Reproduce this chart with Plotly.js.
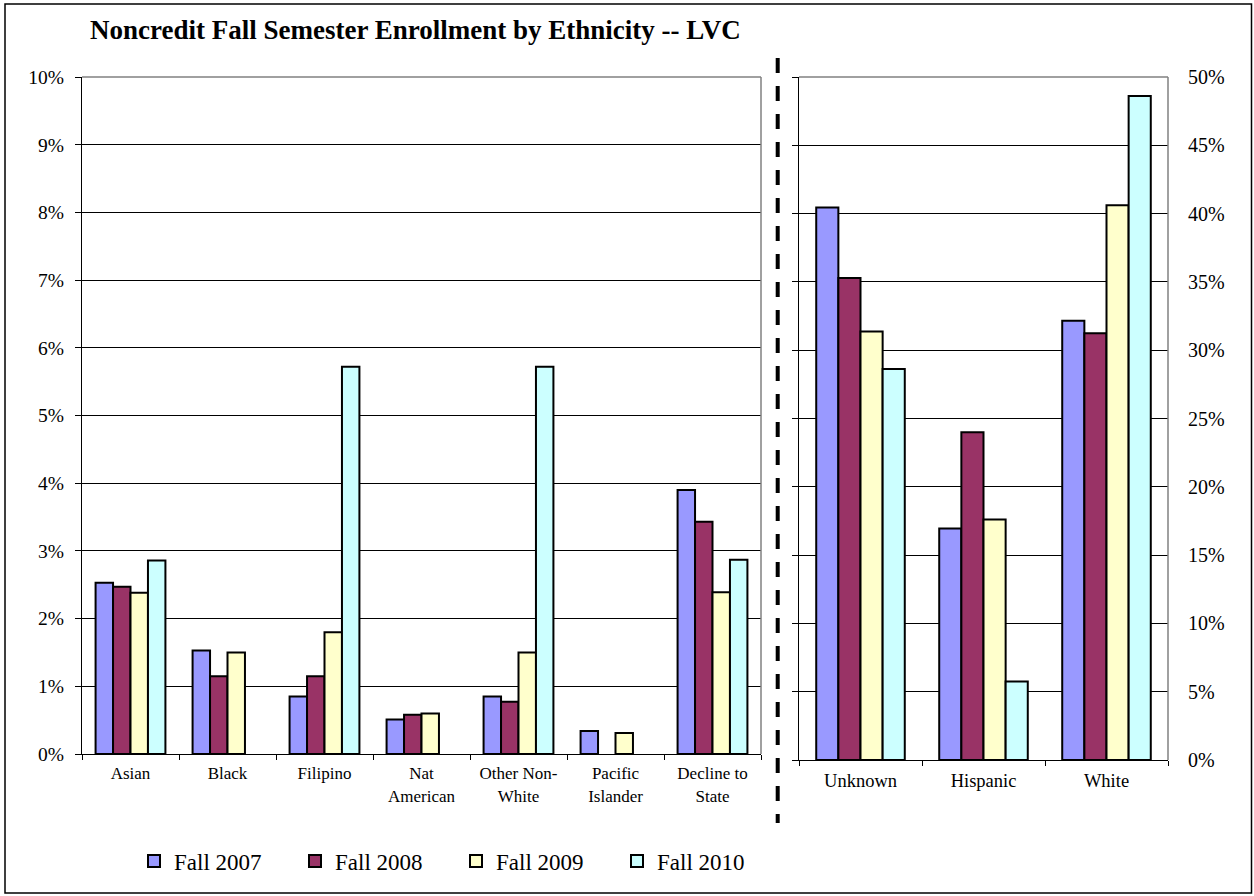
<!DOCTYPE html>
<html>
<head>
<meta charset="utf-8">
<script src="https://cdn.plot.ly/plotly-3.0.1.min.js"></script>
<style>html,body{margin:0;padding:0;background:#fff;}</style>
</head>
<body>
<div id="chart" style="width:1254px;height:896px;"></div>
<script>
// ---- data ----
const leftCategories = ["Asian", "Black", "Filipino", "Nat<br>American", "Other Non-<br>White", "Pacific<br>Islander", "Decline to<br>State"];
const rightCategories = ["Unknown", "Hispanic", "White"];
const seriesNames = ["Fall 2007", "Fall 2008", "Fall 2009", "Fall 2010"];

const left2007 = [0.0253, 0.0153, 0.0085, 0.0051, 0.0085, 0.0034, 0.0390];
const left2008 = [0.0247, 0.0115, 0.0115, 0.0058, 0.0077, null, 0.0343];
const left2009 = [0.0238, 0.0150, 0.0180, 0.0060, 0.0150, 0.0031, 0.0239];
const left2010 = [0.0286, null, 0.0572, null, 0.0572, null, 0.0287];

const right2007 = [0.4044, 0.1694, 0.3216];
const right2008 = [0.3529, 0.2400, 0.3125];
const right2009 = [0.3137, 0.1761, 0.4062];
const right2010 = [0.2863, 0.0574, 0.4860];

const colors = ["#9999FF", "#993366", "#FFFFCC", "#CCFFFF"];

// ---- build ----
const W = 1254, H = 896;
const px = v => v / W;
const py = v => (H - v) / H;
const serif = "Liberation Serif";

const leftVals = [left2007, left2008, left2009, left2010];
const rightVals = [right2007, right2008, right2009, right2010];

const traces = [];
seriesNames.forEach((n, i) => {
  traces.push({
    type: "bar", name: n, x: leftCategories, y: leftVals[i],
    xaxis: "x", yaxis: "y",
    marker: {color: colors[i], line: {color: "#000", width: 2}},
    hoverinfo: "skip", legendgroup: n
  });
});
seriesNames.forEach((n, i) => {
  traces.push({
    type: "bar", name: n, x: rightCategories, y: rightVals[i],
    xaxis: "x2", yaxis: "y2", showlegend: false,
    marker: {color: colors[i], line: {color: "#000", width: 2}},
    hoverinfo: "skip", legendgroup: n
  });
});
// invisible trace for the right-side label axis
traces.push({type: "bar", x: rightCategories, y: [null, null, null], xaxis: "x2", yaxis: "y3", showlegend: false, hoverinfo: "skip"});

const gray = "#808080";
const layout = {
  width: W, height: H,
  margin: {l: 0, r: 0, t: 0, b: 0},
  paper_bgcolor: "#fff", plot_bgcolor: "#fff",
  barmode: "group", bargap: 0.28, bargroupgap: 0,
  font: {family: serif, color: "#000"},
  showlegend: true,
  legend: {
    orientation: "h", x: px(134), xanchor: "left", y: py(861), yanchor: "middle",
    entrywidth: 116, entrywidthmode: "pixels", itemwidth: 30,
    font: {family: serif, size: 23, color: "#000"}, bgcolor: "rgba(0,0,0,0)"
  },
  xaxis: {
    domain: [px(82), px(761)], anchor: "y", type: "category",
    tickson: "boundaries", ticks: "outside", ticklen: 5, tickcolor: "#000",
    showline: true, linecolor: "#000", linewidth: 1, ticklabelstandoff: 4,
    tickfont: {family: serif, size: 17, color: "#000"}, fixedrange: true
  },
  yaxis: {
    domain: [py(754), py(77)], anchor: "x", range: [0, 0.1], dtick: 0.01, tickformat: ".0%",
    ticks: "outside", ticklen: 6, tickcolor: "#000", ticklabelstandoff: 7,
    showline: true, linecolor: "#000", linewidth: 1,
    showgrid: true, gridcolor: "#000", gridwidth: 1, zeroline: false,
    tickfont: {family: serif, size: 19.5, color: "#000"}, fixedrange: true
  },
  xaxis2: {
    domain: [px(799), px(1168)], anchor: "y2", type: "category",
    tickson: "boundaries", ticks: "outside", ticklen: 5, tickcolor: "#000",
    showline: true, linecolor: "#000", linewidth: 1, ticklabelstandoff: 4,
    tickfont: {family: serif, size: 18.5, color: "#000"}, fixedrange: true
  },
  yaxis2: {
    domain: [py(760), py(77)], anchor: "x2", range: [0, 0.5], dtick: 0.05,
    side: "left", ticks: "outside", ticklen: 6, tickcolor: "#000",
    showticklabels: false,
    showline: true, linecolor: "#000", linewidth: 1,
    showgrid: true, gridcolor: "#000", gridwidth: 1, zeroline: false, fixedrange: true
  },
  yaxis3: {
    overlaying: "y2", anchor: "x2", side: "right", range: [0, 0.5], dtick: 0.05, tickformat: ".0%",
    ticks: "", showgrid: false, zeroline: false, showline: false,
    ticklabelstandoff: 19,
    tickfont: {family: serif, size: 20, color: "#000"}, fixedrange: true
  },
  annotations: [{
    text: "<b>Noncredit Fall Semester Enrollment by Ethnicity -- LVC</b>",
    xref: "paper", yref: "paper", x: px(88), y: py(30), xanchor: "left", yanchor: "middle",
    showarrow: false, font: {family: serif, size: 27, color: "#000"}
  }],
  shapes: [
    // plot-area borders (gray)
    {type: "line", xref: "x domain", yref: "y domain", x0: 0, x1: 1, y0: 1, y1: 1, line: {color: gray, width: 1.5}},
    {type: "line", xref: "x domain", yref: "y domain", x0: 1, x1: 1, y0: 0, y1: 1, line: {color: gray, width: 1.5}},
    {type: "line", xref: "x2 domain", yref: "y2 domain", x0: 0, x1: 1, y0: 1, y1: 1, line: {color: gray, width: 1.5}},
    {type: "line", xref: "x2 domain", yref: "y2 domain", x0: 1, x1: 1, y0: 0, y1: 1, line: {color: gray, width: 1.5}},
    // dashed separator
    {type: "line", xref: "paper", yref: "paper", x0: px(777.7), x1: px(777.7), y0: py(58), y1: py(823), line: {color: "#000", width: 4, dash: "15px,13px"}},
    // outer frame
    {type: "rect", xref: "paper", yref: "paper", x0: px(5), x1: px(1251.5), y0: py(4), y1: py(893), line: {color: "#000", width: 1.5}, fillcolor: "rgba(0,0,0,0)"}
  ]
};

Plotly.newPlot("chart", traces, layout, {displayModeBar: false, staticPlot: true});
</script>
</body>
</html>
